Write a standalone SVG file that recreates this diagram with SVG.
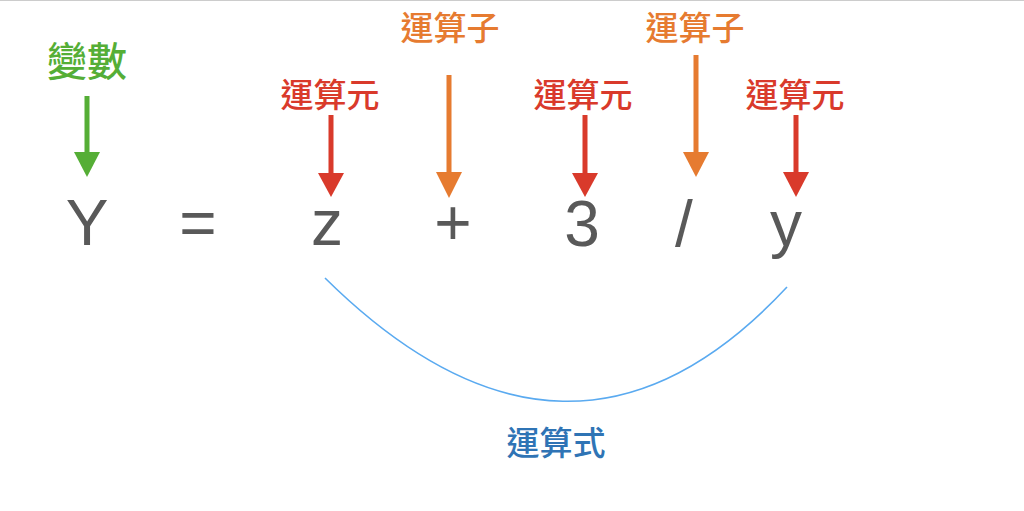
<svg xmlns="http://www.w3.org/2000/svg" width="1024" height="511" viewBox="0 0 1024 511">
<style>
.cjk{font-family:"Noto Sans CJK TC","Noto Sans CJK SC",sans-serif;text-anchor:middle;font-weight:500}
.sym{font-family:"Liberation Sans","Noto Sans",sans-serif;font-size:64px;fill:#595959;text-anchor:middle}
.red{fill:#d93a2b}.org{fill:#e67b30}.grn{fill:#55ae36}
</style>
<rect width="1024" height="511" fill="#ffffff"/>
<line x1="0" y1="0.5" x2="1024" y2="0.5" stroke="#cccccc" stroke-width="1"/>
<g id="connectors">
  <g id="arrow-var" class="grn"><rect x="84.5" y="96" width="5" height="57"/><polygon points="74,152 100,152 87,177"/></g>
  <g id="arrow-z" class="red"><rect x="328.5" y="115" width="5" height="59"/><polygon points="318,173 344,173 331,197"/></g>
  <g id="arrow-plus" class="org"><rect x="446.5" y="75" width="5" height="98"/><polygon points="436,172 462,172 449,198"/></g>
  <g id="arrow-3" class="red"><rect x="582.5" y="115" width="5" height="59"/><polygon points="572,173 598,173 585,197"/></g>
  <g id="arrow-div" class="org"><rect x="693.5" y="55" width="5" height="98"/><polygon points="683,152 709,152 696,177"/></g>
  <g id="arrow-y" class="red"><rect x="793.5" y="115" width="5" height="58"/><polygon points="783,172 809,172 796,197"/></g>
  <path id="brace" d="M325 278 Q570 520 787 287" fill="none" stroke="#5aaaf0" stroke-width="1.6"/>
</g>
<g id="label-var"><text class="cjk grn" x="87" y="76" font-size="40">變數</text></g>
<g id="label-z"><text class="cjk red" x="330" y="107" font-size="33">運算元</text></g>
<g id="label-plus"><text class="cjk org" x="450" y="40" font-size="33">運算子</text></g>
<g id="label-3"><text class="cjk red" x="583" y="107" font-size="33">運算元</text></g>
<g id="label-div"><text class="cjk org" x="695" y="40" font-size="33">運算子</text></g>
<g id="label-y"><text class="cjk red" x="795" y="107" font-size="33">運算元</text></g>
<g id="label-expr"><text class="cjk" x="556" y="455" font-size="33" fill="#2f74b5">運算式</text></g>
<g id="expression">
  <text class="sym" x="87" y="245">Y</text>
  <text class="sym" x="198" y="245">=</text>
  <text class="sym" x="327" y="245">z</text>
  <text class="sym" x="453" y="245">+</text>
  <text class="sym" x="582" y="246">3</text>
  <text class="sym" x="684" y="246">/</text>
  <text class="sym" x="786" y="246">y</text>
</g>
</svg>
